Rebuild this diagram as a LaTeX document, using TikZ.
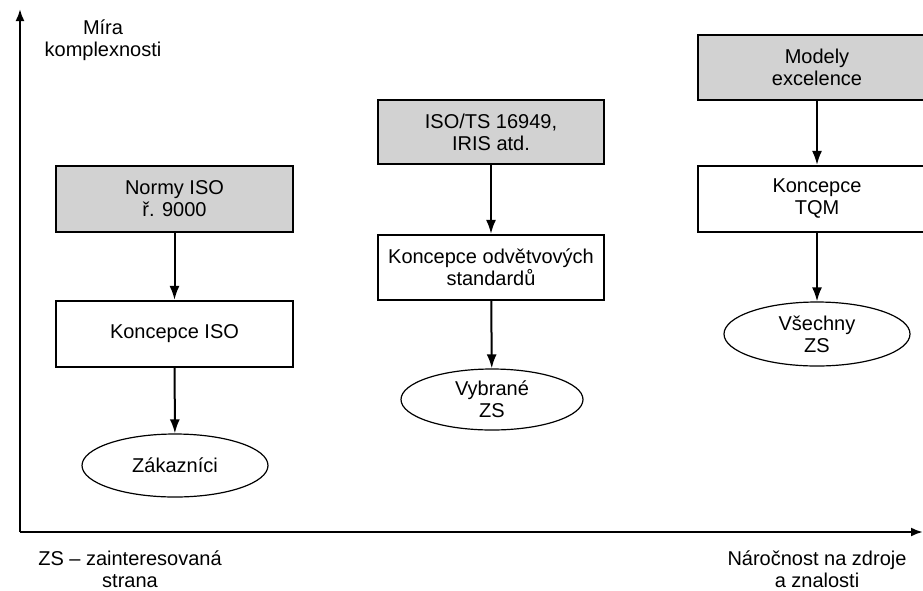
\documentclass[tikz,border=0pt]{standalone}
\usepackage{fontspec}
\setmainfont{Liberation Sans}
\usetikzlibrary{arrows.meta,shapes.geometric}
\definecolor{boxgray}{RGB}{210,210,210}
\tikzset{
  txt/.style={font=\fontsize{20}{22}\selectfont, align=center, text=black},
  graybox/.style={txt, draw, line width=2.2pt, fill=boxgray, rectangle, inner sep=0pt},
  whitebox/.style={txt, draw, line width=2.2pt, fill=white, rectangle, inner sep=0pt},
  oval/.style={txt, draw, line width=1.2pt, ellipse, inner sep=0pt},
  flow/.style={line width=2pt, -{Latex[length=14pt,width=10pt]}},
  axis/.style={line width=2.2pt, -{Latex[length=12pt,width=9pt]}}
}
\begin{document}
\begin{tikzpicture}[x=1pt,y=-1pt]
\useasboundingbox (0,0) rectangle (923,590);
% axes
\coordinate (O) at (20,532);
\coordinate (Ytop) at (20,9);
\coordinate (Xend) at (923,532);
\draw[axis] (O) -- (Ytop);
\draw[axis] (O) -- (Xend);
% column 1
\node[graybox, minimum width=237pt, minimum height=66pt] (n1) at (174.5,199) {Normy ISO\\ř. 9000};
\node[whitebox, minimum width=237pt, minimum height=66pt] (k1) at (174.5,334) {Koncepce ISO};
\node[oval, minimum width=186pt, minimum height=63pt] (e1) at (175,465.5) {Zákazníci};
% column 2
\node[graybox, minimum width=226pt, minimum height=64pt] (n2) at (491,132) {ISO/TS 16949,\\IRIS atd.};
\node[whitebox, minimum width=226pt, minimum height=65pt] (k2) at (491,267.5) {Koncepce odvětvových\\standardů};
\node[oval, minimum width=182pt, minimum height=61pt] (e2) at (492,399.5) {Vybrané\\ZS};
% column 3
\node[graybox, minimum width=238pt, minimum height=65pt] (n3) at (817,67.5) {Modely\\excelence};
\node[whitebox, minimum width=238pt, minimum height=66pt] (k3) at (817,199) {Koncepce\\TQM};
\node[oval, minimum width=186pt, minimum height=64pt] (e3) at (817,334) {Všechny\\ZS};
% arrows
\draw[flow] (n1) -- (k1);
\draw[flow] (k1) -- (e1);
\draw[flow] (n2) -- (k2);
\draw[flow] (k2) -- (e2);
\draw[flow] (n3) -- (k3);
\draw[flow] (k3) -- (e3);
% labels
\node[txt] (ylab) at (103,40) {Míra\\komplexnosti};
\node[txt] (zs) at (130,569) {ZS – zainteresovaná\\strana};
\node[txt] (xlab) at (817,569) {Náročnost na zdroje\\a znalosti};
\end{tikzpicture}
\end{document}
